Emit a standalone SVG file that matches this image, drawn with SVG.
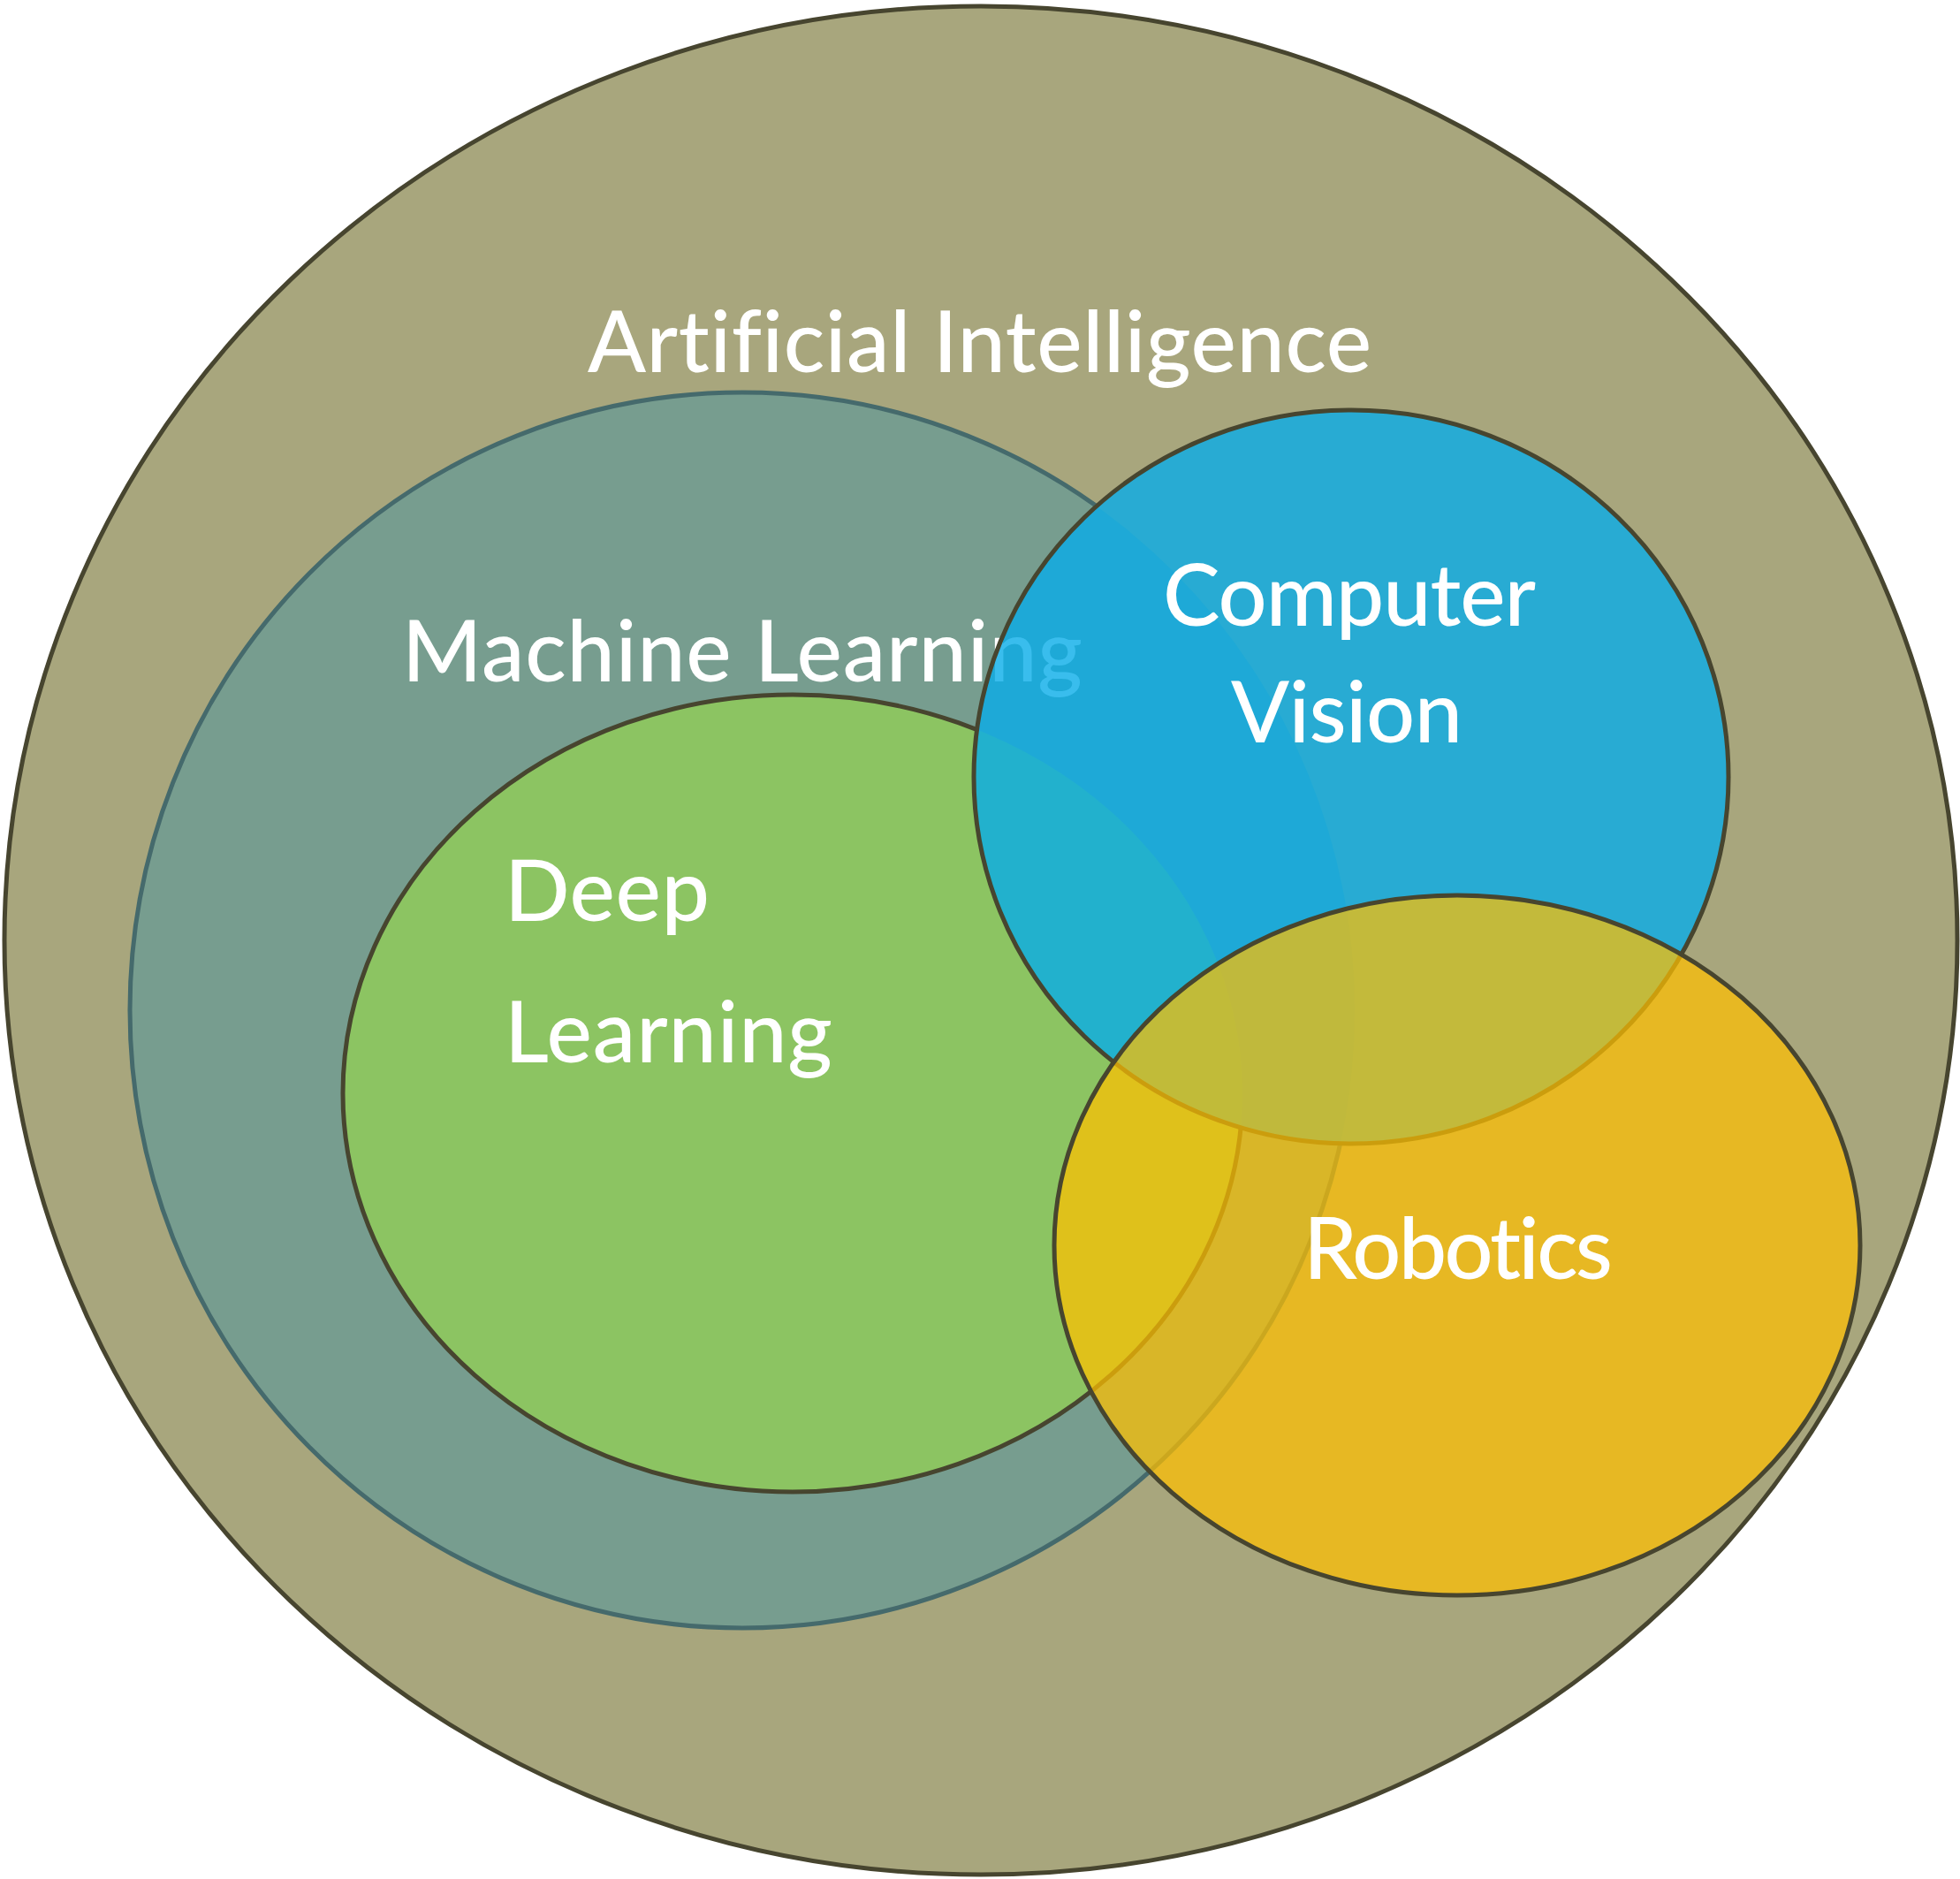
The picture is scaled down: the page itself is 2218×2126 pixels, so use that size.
<svg xmlns="http://www.w3.org/2000/svg" width="2218" height="2126" viewBox="0 0 2218 2126">
  <style>
    .lbl { font-family: "Lato", "Open Sans", "Liberation Sans", sans-serif; font-size: 97px; fill: #ffffff; font-weight: 500; font-variant-ligatures: none; font-feature-settings: "liga" 0, "clig" 0; }
    .edge { stroke: #47452F; stroke-width: 5; }
  </style>
  <defs>
    <mask id="outsideCV" maskUnits="userSpaceOnUse" x="0" y="0" width="2218" height="2126">
      <rect x="0" y="0" width="2218" height="2126" fill="#ffffff"/>
      <ellipse cx="1529" cy="879" rx="427" ry="415" fill="#000000"/>
    </mask>
  </defs>
  <rect width="2218" height="2126" fill="#ffffff"/>
  <g id="ai">
    <ellipse class="edge" cx="1110" cy="1064" rx="1105" ry="1057" fill="#A8A67D"/>
    <text class="lbl" x="665" y="421" textLength="887" lengthAdjust="spacing">Artificial Intelligence</text>
  </g>
  <g id="ml">
    <ellipse cx="840" cy="1143" rx="693" ry="699" fill="#779D8F"/>
    <ellipse cx="840" cy="1143" rx="693" ry="699" fill="none" stroke="#456A6C" stroke-width="5" mask="url(#outsideCV)"/>
    <text class="lbl" x="455" y="771" textLength="770" lengthAdjust="spacing">Machine Learning</text>
  </g>
  <g id="dl">
    <ellipse cx="897" cy="1237" rx="509" ry="451" fill="#8CC462"/>
    <ellipse class="edge" cx="897" cy="1237" rx="509" ry="451" fill="none" mask="url(#outsideCV)"/>
    <text class="lbl" x="571" y="1042" textLength="232" lengthAdjust="spacing">Deep</text>
    <text class="lbl" x="571" y="1202" textLength="371" lengthAdjust="spacing">Learning</text>
  </g>
  <g id="cv">
    <ellipse class="edge" cx="1529" cy="879" rx="427" ry="415" fill="#07ADE9" fill-opacity="0.8"/>
    <text class="lbl" x="1316" y="708" textLength="422" lengthAdjust="spacing">Computer</text>
    <text class="lbl" x="1393" y="840" textLength="262" lengthAdjust="spacing">Vision</text>
  </g>
  <g id="robotics">
    <ellipse class="edge" cx="1649" cy="1409" rx="456" ry="396" fill="#FFBF00" fill-opacity="0.72"/>
    <text class="lbl" x="1475" y="1447" textLength="350" lengthAdjust="spacing">Robotics</text>
  </g>
  <g id="connectors"/>
</svg>
